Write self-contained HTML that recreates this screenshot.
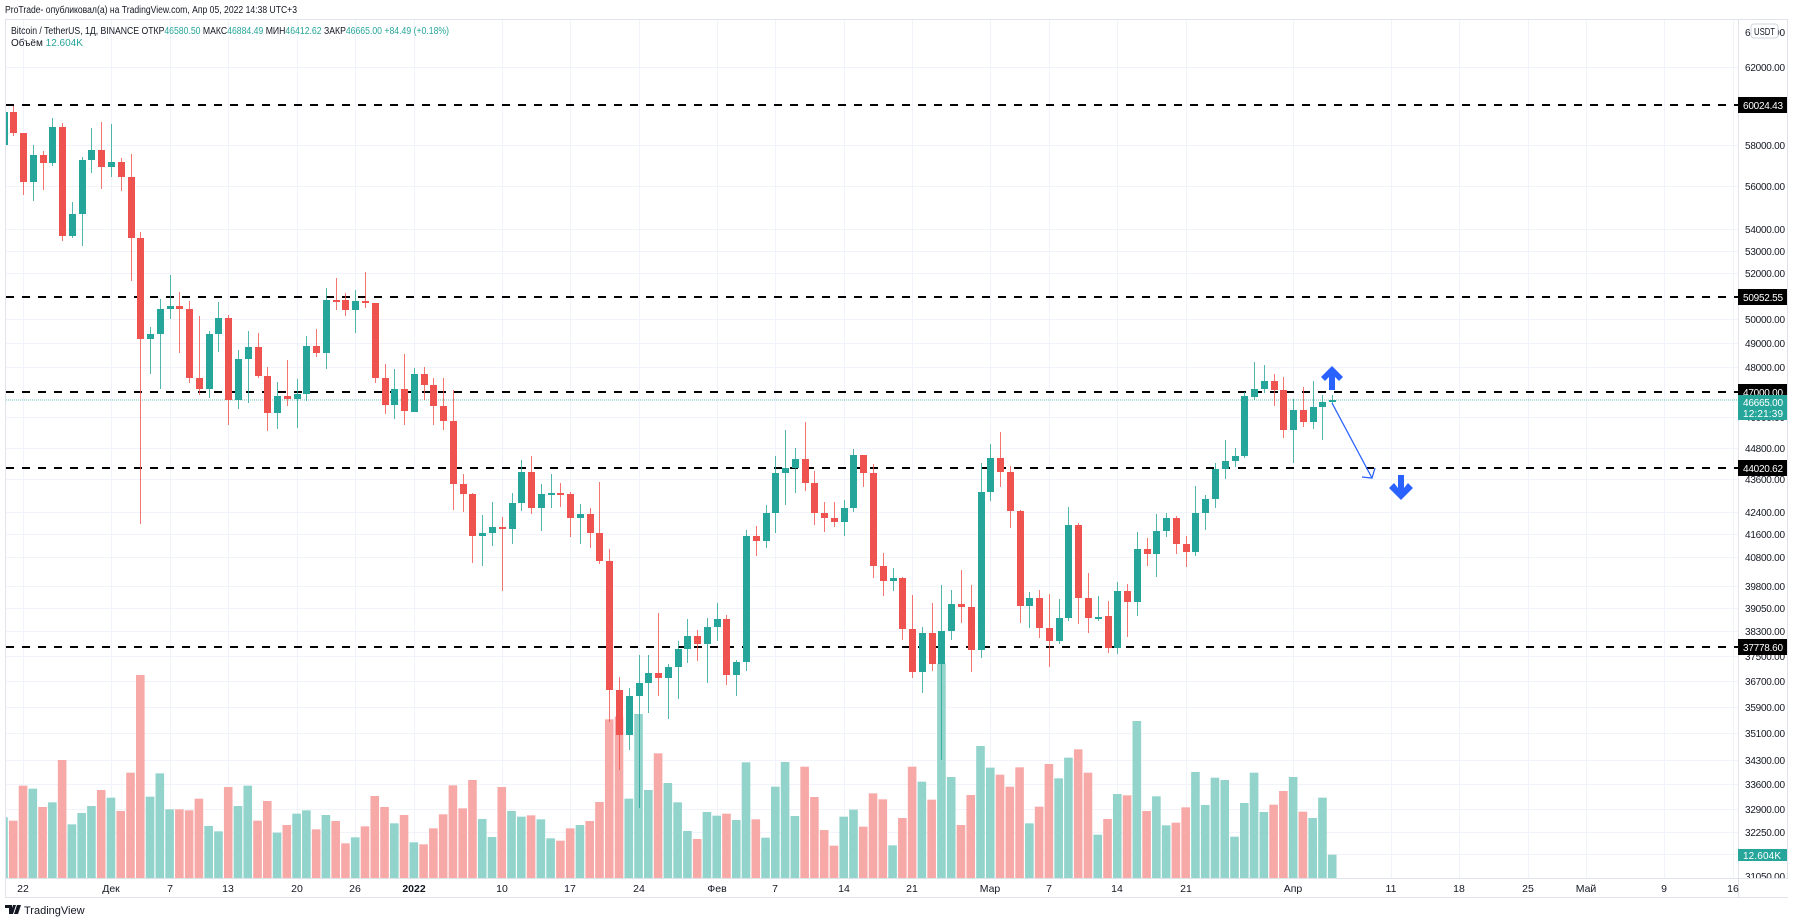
<!DOCTYPE html>
<html><head><meta charset="utf-8">
<style>
html,body{margin:0;padding:0;background:#fff;}
svg{display:block;font-family:"Liberation Sans","DejaVu Sans",sans-serif;}
</style></head>
<body>
<svg id="s" width="1795" height="921" viewBox="0 0 1795 921" xmlns="http://www.w3.org/2000/svg">
<rect x="0" y="0" width="1795" height="921" fill="#fff"/>
<g id="grid" stroke="#f0f3fa" stroke-width="1"></g>
<g id="vol"></g>
<g id="dash" stroke="#000" stroke-width="2" stroke-dasharray="8,8">
<line x1="6" y1="105" x2="1738" y2="105"/>
<line x1="6" y1="297" x2="1738" y2="297"/>
<line x1="6" y1="392" x2="1738" y2="392"/>
<line x1="6" y1="468" x2="1738" y2="468"/>
<line x1="6" y1="647" x2="1738" y2="647"/>
</g>
<line x1="6" y1="400" x2="1738" y2="400" stroke="#26a69a" stroke-width="1" stroke-dasharray="1,1" opacity="0.7"/>
<g id="candles"></g>
<line x1="1332" y1="403" x2="1372" y2="478" stroke="#2962ff" stroke-width="1.3"/>
<polyline points="1362,477 1372,478 1375,468" fill="none" stroke="#2962ff" stroke-width="1.3"/>
<path d="M1332,366 L1343,377 L1339,381 L1335,377 L1335,390 L1329,390 L1329,377 L1325,381 L1321,377 Z" fill="#2962ff"/>
<path d="M1401,500 L1413,488 L1408,483 L1404,488 L1404,475 L1398,475 L1398,488 L1394,483 L1389,488 Z" fill="#2962ff"/>
<rect x="5.5" y="19.5" width="1782" height="878" fill="none" stroke="#e0e3eb"/>
<line x1="1738.5" y1="19" x2="1738.5" y2="898" stroke="#e0e3eb"/>
<line x1="5" y1="878.5" x2="1788" y2="878.5" stroke="#e0e3eb"/>
<rect x="1739" y="20" width="48" height="857" fill="#fff"/>
<g font-size="10" fill="#131722" lengthAdjust="spacingAndGlyphs">
<text x="1745" y="36" textLength="40">64000.00</text>
<text x="1745" y="71" textLength="40">62000.00</text>
<text x="1745" y="149" textLength="40">58000.00</text>
<text x="1745" y="190" textLength="40">56000.00</text>
<text x="1745" y="233" textLength="40">54000.00</text>
<text x="1745" y="255" textLength="40">53000.00</text>
<text x="1745" y="277" textLength="40">52000.00</text>
<text x="1745" y="323" textLength="40">50000.00</text>
<text x="1745" y="347" textLength="40">49000.00</text>
<text x="1745" y="371" textLength="40">48000.00</text>
<text x="1745" y="421" textLength="40">46000.00</text>
<text x="1745" y="452" textLength="40">44800.00</text>
<text x="1745" y="483" textLength="40">43600.00</text>
<text x="1745" y="516" textLength="40">42400.00</text>
<text x="1745" y="538" textLength="40">41600.00</text>
<text x="1745" y="561" textLength="40">40800.00</text>
<text x="1745" y="590" textLength="40">39800.00</text>
<text x="1745" y="612" textLength="40">39050.00</text>
<text x="1745" y="635" textLength="40">38300.00</text>
<text x="1745" y="660" textLength="40">37500.00</text>
<text x="1745" y="685" textLength="40">36700.00</text>
<text x="1745" y="711" textLength="40">35900.00</text>
<text x="1745" y="737" textLength="40">35100.00</text>
<text x="1745" y="764" textLength="40">34300.00</text>
<text x="1745" y="788" textLength="40">33600.00</text>
<text x="1745" y="813" textLength="40">32900.00</text>
<text x="1745" y="836" textLength="40">32250.00</text>
<text x="1745" y="880" textLength="40">31050.00</text>
</g>
<rect x="1739" y="878" width="49" height="19" fill="#fff"/>
<line x1="1739" y1="878.5" x2="1788" y2="878.5" stroke="#e0e3eb"/>
<rect x="1751" y="24" width="27" height="14" rx="3" fill="#fff" stroke="#d1d4dc"/>
<text x="1764.5" y="35" font-size="10" fill="#131722" text-anchor="middle" textLength="21" lengthAdjust="spacingAndGlyphs">USDT</text>
<g font-size="10" fill="#fff" lengthAdjust="spacingAndGlyphs">
<rect x="1738" y="97" width="49" height="16" fill="#000"/><text x="1743" y="109" textLength="40">60024.43</text>
<rect x="1738" y="289" width="49" height="16" fill="#000"/><text x="1743" y="301" textLength="40">50952.55</text>
<rect x="1738" y="384" width="49" height="16" fill="#000"/><text x="1743" y="396" textLength="40">47000.00</text>
<rect x="1738" y="460" width="49" height="16" fill="#000"/><text x="1743" y="472" textLength="40">44020.62</text>
<rect x="1738" y="639" width="49" height="16" fill="#000"/><text x="1743" y="651" textLength="40">37778.60</text>
<rect x="1738" y="395" width="49" height="25" fill="#26a69a"/><text x="1743" y="406" textLength="40">46665.00</text><text x="1743" y="417" textLength="40">12:21:39</text>
<rect x="1738" y="849" width="49" height="12" fill="#26a69a"/><text x="1743" y="859" textLength="38">12.604K</text>
</g>
<g font-size="10.5" fill="#131722" text-anchor="middle">
<text x="23" y="892">22</text>
<text x="111" y="892">Дек</text>
<text x="170" y="892">7</text>
<text x="228" y="892">13</text>
<text x="297" y="892">20</text>
<text x="355" y="892">26</text>
<text x="414" y="892" font-weight="bold">2022</text>
<text x="502" y="892">10</text>
<text x="570" y="892">17</text>
<text x="639" y="892">24</text>
<text x="717" y="892">Фев</text>
<text x="775" y="892">7</text>
<text x="844" y="892">14</text>
<text x="912" y="892">21</text>
<text x="990" y="892">Мар</text>
<text x="1049" y="892">7</text>
<text x="1117" y="892">14</text>
<text x="1186" y="892">21</text>
<text x="1293" y="892">Апр</text>
<text x="1391" y="892">11</text>
<text x="1459" y="892">18</text>
<text x="1528" y="892">25</text>
<text x="1586" y="892">Май</text>
<text x="1664" y="892">9</text>
<text x="1733" y="892">16</text>
</g>
<text x="5" y="13" font-size="10" fill="#131722" textLength="292" lengthAdjust="spacingAndGlyphs">ProTrade- опубликовал(а) на TradingView.com, Апр 05, 2022 14:38 UTC+3</text>
<text x="11" y="34" font-size="10" fill="#131722" textLength="438" lengthAdjust="spacingAndGlyphs">Bitcoin / TetherUS, 1Д, BINANCE  ОТКР<tspan fill="#26a69a">46580.50</tspan>  МАКС<tspan fill="#26a69a">46884.49</tspan>  МИН<tspan fill="#26a69a">46412.62</tspan>  ЗАКР<tspan fill="#26a69a">46665.00</tspan>  <tspan fill="#26a69a">+84.49 (+0.18%)</tspan></text>
<text x="11" y="46" font-size="10" fill="#131722">Объём  <tspan fill="#26a69a">12.604K</tspan></text>
<path d="M5,905 h7 v9 h-3 v-6 h-4 z M13,905 h3 l-3,9 h-3 z M17,905 h4 l-3,9 h-4 z" fill="#131722"/>
<text x="24" y="914" font-size="11" fill="#131722">TradingView</text>
</svg>
<script>
var NS="http://www.w3.org/2000/svg";
function el(p,t,a){var e=document.createElementNS(NS,t);for(var k in a)e.setAttribute(k,a[k]);p.appendChild(e);return e;}
function X(i){return 3.5+9.77*i;}
var C=[[145,111,146,112],[112,106,136,133],[133,133,195,182],[182,145,201,155],[155,151,190,163],[163,118,166,127],[127,123,241,236],[236,202,238,214],[214,157,246,160],[160,128,173,150],[150,122,189,167],[167,124,177,162],[162,158,191,177],[177,154,281,238],[238,232,524,339],[339,327,374,334],[334,299,389,309],[309,275,319,306],[306,292,353,309],[309,301,383,378],[378,316,395,389],[389,331,398,334],[334,302,352,318],[318,315,425,400],[400,350,409,359],[359,331,403,347],[347,333,378,376],[376,367,431,413],[413,382,429,396],[396,360,406,399],[399,379,428,394],[394,336,401,346],[346,329,357,353],[353,288,369,300],[300,278,310,301],[300,293,316,310],[310,290,333,301],[301,272,308,303],[303,303,383,378],[378,364,414,405],[405,369,419,389],[389,354,425,411],[412,368,412,374],[374,367,400,385],[385,378,425,406],[406,378,430,421],[421,390,510,484],[484,474,512,494],[494,493,563,536],[536,515,566,533],[533,502,546,527],[527,517,591,529],[529,493,544,503],[503,460,511,472],[472,456,514,508],[508,484,531,494],[495,474,508,493],[493,483,507,495],[494,492,537,518],[518,504,544,514],[514,508,548,533],[533,482,564,561],[561,549,722,690],[690,677,770,735],[735,688,750,696],[696,655,808,683],[683,655,713,673],[673,613,696,678],[678,664,719,667],[667,641,699,649],[649,619,663,636],[636,630,661,644],[644,618,683,627],[627,603,641,619],[619,615,685,675],[675,660,696,662],[662,530,671,536],[536,526,556,541],[541,505,548,513],[513,456,533,473],[473,430,505,468],[468,448,493,459],[459,422,491,483],[483,471,525,513],[513,502,532,518],[518,502,527,522],[522,500,536,508],[508,449,512,455],[455,455,487,473],[473,464,578,566],[566,553,596,581],[581,568,591,578],[578,577,640,629],[629,595,678,672],[672,627,693,633],[633,603,671,664],[664,585,760,631],[631,590,640,604],[604,570,623,607],[607,585,672,650],[650,463,658,492],[492,444,501,458],[458,432,487,472],[472,466,528,511],[511,510,623,606],[606,592,628,598],[598,590,638,628],[628,594,667,641],[641,599,644,618],[618,507,621,525],[525,523,624,598],[598,573,633,618],[619,596,621,617],[616,601,653,648],[648,582,654,591],[591,584,637,602],[602,532,616,549],[549,538,566,554],[554,514,577,531],[531,513,537,518],[518,516,554,544],[544,536,567,552],[552,486,556,513],[513,495,530,499],[499,463,508,469],[469,440,479,461],[461,448,467,456],[456,392,458,396],[397,362,400,389],[389,365,393,381],[381,374,406,390],[390,377,438,430],[430,399,463,410],[410,387,427,422],[422,381,429,407],[407,395,440,402],[401,395,403,400]];
var V=[472,482,377,386,441,427,300,493,459,438,390,413,453,338,45,410,340,448,448,451,416,498,514,381,438,377,482,423,518,495,461,451,508,465,483,550,532,499,408,441,490,465,547,553,505,463,376,445,360,477,531,381,453,470,466,478,535,542,505,495,483,426,178,170,416,162,390,280,369,427,513,537,456,467,461,480,307,478,533,380,306,468,320,411,510,557,470,449,500,400,418,556,474,320,365,419,10,351,495,405,258,323,344,380,322,490,440,312,355,293,268,338,524,477,402,406,183,453,409,496,488,442,336,435,353,360,530,429,338,456,434,393,351,455,474,413,584];
var grid=document.getElementById('grid');
[67,145,186,229,251,273,319,343,367,417,448,479,512,534,557,586,608,631,656,681,707,733,760,784,809,832,854].forEach(function(y){el(grid,'line',{x1:6,y1:y+.5,x2:1738,y2:y+.5});});
[2,11,17,23,30,36,42,51,58,65,73,79,86,93,101,107,114,121,132,142,149,156,162,170,177].forEach(function(i){var x=Math.round(X(i))+.5;el(grid,'line',{x1:x,y1:20,x2:x,y2:878});});
var vg=document.getElementById('vol'),cg=document.getElementById('candles');
function isUp(i){var c=C[i];var up=c[3]<c[0];if(i==29||i==34||i==37||i==51||i==57)up=false;if(i==56||i==91||i==112||i==136)up=true;return up;}
for(var i=0;i<C.length;i++){
 var x=X(i),up=isUp(i);
 var vt=660+V[i]/3, x0=Math.max(6,x-4.3);
 el(vg,'rect',{x:x0,y:vt,width:x+4.3-x0,height:878-vt,fill:up?'#92d3cc':'#f7a9a8'});
}
for(var i=0;i<C.length;i++){
 var c=C[i],x=X(i),o=c[0],h=c[1],l=c[2],cl=c[3];
 var col=isUp(i)?'#26a69a':'#ef5350';
 var xc=Math.round(x)+.5;
 if(xc>6) el(cg,'line',{x1:xc,y1:h,x2:xc,y2:l,stroke:col,'stroke-width':1,opacity:0.8});
 var t=Math.min(o,cl),b=Math.max(o,cl); if(b-t<2){b=t+2;}
 var bx=Math.max(6,Math.round(x)-3);
 el(cg,'rect',{x:bx,y:t,width:Math.round(x)+4-bx,height:b-t,fill:col});
}
</script>
</body></html>
